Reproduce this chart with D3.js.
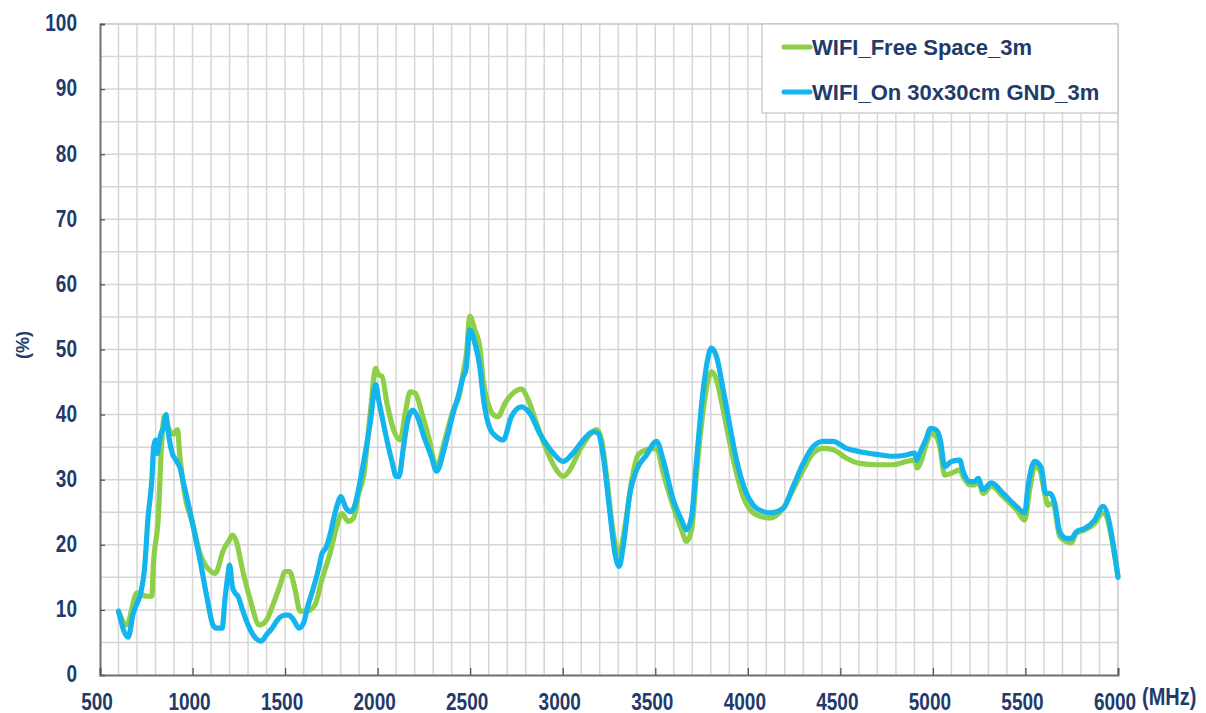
<!DOCTYPE html>
<html>
<head>
<meta charset="utf-8">
<script src="https://cdn.jsdelivr.net/npm/d3@7"></script>
<style>
  html, body { margin: 0; padding: 0; background: #ffffff; }
  svg { display: block; }
  text { font-family: "Liberation Sans", Arial, sans-serif; font-weight: bold; fill: #1f3b6b; }
</style>
</head>
<body>
<svg id="chart" width="1206" height="713"></svg>
<script>
// ---- data ----
const seriesNames = ["WIFI_Free Space_3m", "WIFI_On 30x30cm GND_3m"];
const seriesColors = ["#8dcf47", "#14b4ec"];

const freeSpaceMHz = [600,644,700,752,780,788,815,833,848,869,896,918,932,960,1000,1040,1100,1122,1167,1194,1217,1239,1266,1311,1361,1401,1437,1473,1500,1524,1554,1581,1617,1662,1698,1743,1779,1806,1842,1870,1897,1924,1960,1990,2005,2023,2050,2086,2122,2149,2176,2203,2239,2275,2318,2363,2408,2444,2462,2480,2498,2525,2552,2570,2597,2624,2651,2687,2732,2777,2813,2858,2912,2966,3002,3038,3093,3147,3183,3210,3237,3273,3305,3336,3372,3408,3453,3507,3543,3597,3642,3669,3696,3723,3759,3804,3831,3867,3903,3939,3975,4011,4065,4119,4191,4245,4299,4353,4407,4461,4533,4605,4695,4785,4857,4902,4914,4938,4965,4992,5019,5037,5064,5100,5145,5163,5199,5226,5244,5271,5316,5379,5451,5496,5523,5550,5577,5604,5622,5649,5685,5721,5748,5775,5820,5874,5919,6000];
const freeSpaceEff = [9.8,7.7,12.6,12.1,12.1,16.7,24.3,35.6,39.7,38,37,37.7,33.5,27.4,23.3,18.7,15.9,15.6,19.2,20.5,21.5,20.3,16.7,11.6,7.7,8.5,11,13.8,15.9,15.9,13.1,9.8,9.8,10.8,14.6,18.7,22.8,24.8,23.6,24.1,27.9,30.5,40.2,47.1,46.1,45.9,41.8,37.7,36.1,40.2,43.5,43.3,40.2,36.6,32,36.1,40.7,43.3,46.4,49.4,55.1,53,50.4,45.3,41.7,40,39.7,41.7,43.3,43.9,42.3,38.7,34.6,31.5,30.5,31.5,34.6,36.9,37.7,36.1,30.5,21.8,18.7,22.8,29.8,33.8,34.6,34.8,31,25.9,22.3,20.5,22.3,31,40.7,46.6,45.3,40.7,35.6,31,27.4,25.4,24.4,24.1,25.6,28.5,31.5,34.1,34.8,34.6,33.3,32.5,32.3,32.3,32.8,33,31.8,33,35.6,37.1,36.6,35.1,30.7,31,31.5,30.5,29.2,29.2,30,27.9,29,27.4,25.4,23.8,28.5,32,31.5,27.9,26.1,26.4,21.3,20.5,20.3,21.8,22.3,23.3,24.9,15.2];

const onGndMHz = [600,652,680,700,720,740,760,780,790,800,810,818,830,845,857,865,875,890,910,930,955,1000,1040,1080,1110,1130,1160,1175,1190,1200,1215,1230,1245,1270,1300,1340,1370,1400,1430,1460,1480,1500,1520,1545,1575,1600,1620,1650,1680,1700,1720,1745,1770,1785,1800,1830,1855,1880,1900,1930,1960,1990,2005,2020,2050,2080,2100,2115,2140,2165,2190,2215,2250,2290,2318,2363,2408,2435,2462,2477,2498,2525,2552,2570,2606,2642,2678,2723,2777,2822,2876,2948,3002,3056,3111,3165,3192,3219,3255,3282,3305,3327,3363,3399,3453,3507,3543,3597,3642,3669,3696,3723,3759,3804,3831,3867,3903,3939,3984,4029,4083,4119,4191,4245,4299,4353,4407,4461,4533,4605,4695,4785,4857,4902,4911,4929,4961,4988,5019,5040,5064,5100,5145,5163,5199,5226,5244,5271,5316,5379,5451,5496,5514,5550,5586,5609,5631,5658,5685,5721,5748,5775,5820,5874,5919,6000];
const onGndEff = [9.8,5.8,9.5,11,12.6,16.2,24.3,30,35.1,36.1,34,35.6,37.1,38.2,40,38.2,36.1,34.1,33,32,29,23.3,17.7,11.6,7.7,7.2,7.2,11.6,15.1,16.9,13.6,12.6,12.1,10,7.7,5.7,5.2,6.2,7.2,8.5,9,9.2,9.2,8.5,7.2,8,10.3,13.1,16.2,18.7,19.5,21.8,24.9,26.4,27.4,25.6,25.1,26.4,29,33.6,38.7,44.6,42.3,40.2,36.1,32.5,30.5,30.5,35.1,39.4,40.7,39.7,36.6,33.6,31.3,35.1,40.2,42.8,45.8,46.9,53,51,47.4,42.8,37.9,36.6,36.1,39.7,41.2,40.2,37.1,34.1,32.8,34.1,36.1,37.4,37.1,33.6,24.9,18.7,16.7,19.8,27.9,31.5,33.8,35.9,33,26.9,23.8,22.3,24.3,33,43.8,50.2,48.9,43.8,38.2,33,28.5,26.1,25.1,24.9,25.6,29,32.5,35.1,35.9,35.9,34.8,34.3,33.9,33.6,33.8,34.1,33,34.1,36.1,37.9,37.6,36.1,32,32.8,33,31.3,29.7,29.7,30.2,28.5,29.5,27.9,25.9,24.9,29,32.8,31.8,27.9,27.9,26.4,22,21,21,22,22.5,23.8,25.9,15];

const xTickValues = [500,1000,1500,2000,2500,3000,3500,4000,4500,5000,5500,6000];
const yTickValues = [0,10,20,30,40,50,60,70,80,90,100];
const xUnitLabel = "(MHz)";
const yUnitLabel = "(%)";

// ---- layout ----
const svg = d3.select("#chart");
const L = 100, R = 1118, T = 24, B = 675;
const x = d3.scaleLinear().domain([500, 6000]).range([L, R]);
const y = d3.scaleLinear().domain([0, 100]).range([B, T]);

// grid
const grid = svg.append("g");
grid.selectAll("line.v").data(d3.range(600, 6000, 100)).join("line")
  .attr("x1", d => x(d)).attr("x2", d => x(d)).attr("y1", T).attr("y2", B)
  .attr("stroke", "#d6d6d6").attr("stroke-width", 1.5);
grid.selectAll("line.h").data(d3.range(5, 100, 5)).join("line")
  .attr("x1", L).attr("x2", R).attr("y1", d => y(d)).attr("y2", d => y(d))
  .attr("stroke", "#d6d6d6").attr("stroke-width", 1.5);

// frame
svg.append("line").attr("x1", L).attr("x2", R).attr("y1", T).attr("y2", T).attr("stroke", "#c4c4c4").attr("stroke-width", 1.5);
svg.append("line").attr("x1", R).attr("x2", R).attr("y1", T).attr("y2", B).attr("stroke", "#c4c4c4").attr("stroke-width", 1.5);

// axes (inward ticks)
const yAxis = d3.axisLeft(y).tickValues(yTickValues).tickSize(-5).tickFormat("");
const xAxis = d3.axisBottom(x).tickValues(xTickValues).tickSize(-7).tickFormat("");
const ga = svg.append("g").attr("transform", `translate(${L},0)`).call(yAxis);
const gb = svg.append("g").attr("transform", `translate(0,${B})`).call(xAxis);
[ga, gb].forEach(g => {
  g.select(".domain").attr("stroke", "#6e6e6e").attr("stroke-width", 2);
  g.selectAll(".tick line").attr("stroke", "#555").attr("stroke-width", 1.3);
});

// tick labels
svg.append("g").selectAll("text").data(yTickValues).join("text")
  .attr("transform", d => `translate(77,${y(d) + 7.3}) scale(1,1.22)`)
  .attr("text-anchor", "end").attr("font-size", 19).text(d => d);
svg.append("g").selectAll("text").data(xTickValues).join("text")
  .attr("transform", d => `translate(${x(d) - 3},710) scale(1,1.22)`)
  .attr("text-anchor", "middle").attr("font-size", 19).text(d => d);

svg.append("text").attr("transform", "translate(1142,705) scale(1,1.15)")
  .attr("font-size", 20).text(xUnitLabel);
svg.append("text").attr("transform", "translate(29,345) rotate(-90)")
  .attr("text-anchor", "middle").attr("font-size", 18).text(yUnitLabel);

// lines
const line = d3.line().x(d => x(d[0])).y(d => y(d[1])).curve(d3.curveMonotoneX);
const series = [
  d3.zip(freeSpaceMHz, freeSpaceEff),
  d3.zip(onGndMHz, onGndEff)
];
series.forEach((s, i) => {
  svg.append("path").datum(s).attr("d", line)
    .attr("fill", "none").attr("stroke", seriesColors[i])
    .attr("stroke-width", 5.2).attr("stroke-linejoin", "round").attr("stroke-linecap", "round");
});

// legend
const lg = svg.append("g");
lg.append("rect").attr("x", 762).attr("y", T).attr("width", R - 762).attr("height", 89)
  .attr("fill", "#ffffff").attr("stroke", "#c4c4c4").attr("stroke-width", 1.2);
seriesNames.forEach((n, i) => {
  const yy = 47 + i * 45;
  lg.append("line").attr("x1", 784).attr("x2", 810).attr("y1", yy).attr("y2", yy)
    .attr("stroke", seriesColors[i]).attr("stroke-width", 5).attr("stroke-linecap", "round");
  lg.append("text").attr("x", 812).attr("y", yy + 8).attr("font-size", 22).text(n);
});
</script>
</body>
</html>
